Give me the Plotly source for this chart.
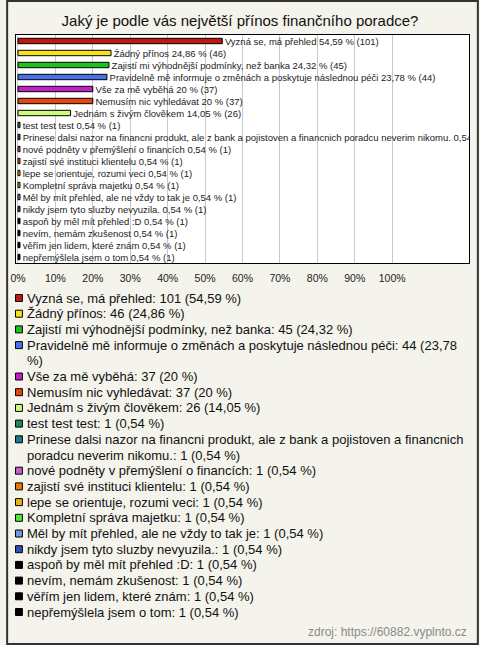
import plotly.graph_objects as go

# ---------------- data ----------------
categories = [
    "Vyzná se, má přehled",
    "Žádný přínos",
    "Zajistí mi výhodnější podmínky, než banka",
    "Pravidelně mě informuje o změnách a poskytuje následnou péči",
    "Vše za mě vyběhá",
    "Nemusím nic vyhledávat",
    "Jednám s živým člověkem",
    "test test test",
    "Prinese dalsi nazor na financni produkt, ale z bank a pojistoven a financnich poradcu neverim nikomu.",
    "nové podněty v přemýšlení o financích",
    "zajistí své instituci klientelu",
    "lepe se orientuje, rozumi veci",
    "Kompletní správa majetku",
    "Měl by mít přehled, ale ne vždy to tak je",
    "nikdy jsem tyto sluzby nevyuzila.",
    "aspoň by měl mít přehled :D",
    "nevím, nemám zkušenost",
    "věřím jen lidem, které znám",
    "nepřemýšlela jsem o tom",
]
counts = [101, 46, 45, 44, 37, 37, 26, 1, 1, 1, 1, 1, 1, 1, 1, 1, 1, 1, 1]
percents = [54.59, 24.86, 24.32, 23.78, 20, 20, 14.05,
            0.54, 0.54, 0.54, 0.54, 0.54, 0.54, 0.54, 0.54, 0.54, 0.54, 0.54, 0.54]
colors = [
    "#c0180c", "#f7e21a", "#1ec21e", "#4a72e8", "#c020c8", "#e8450c", "#cdfa7a",
    "#1a8c5c", "#1f7890", "#c060c8", "#e87810", "#e8b410", "#50e830", "#6c9ce0",
    "#2c54b8", "#000000", "#000000", "#000000", "#000000",
]
tick_values = [0, 10, 20, 30, 40, 50, 60, 70, 80, 90, 100]
tick_labels = ["0%", "10%", "20%", "30%", "40%", "50%", "60%", "70%", "80%", "90%", "100%"]
title_text = "Jaký je podle vás největší přínos finančního poradce?"
source_text = "zdroj: https://60882.vyplnto.cz"

# ---------------- helpers ----------------
FONT = "Liberation Sans, Arial, sans-serif"
W, H = 480, 645
L, R, T, B = 10, 10, 35, 382
PW, PH = W - L - R, H - T - B
X0_PX, SCALE = 12, 3.8           # pixel of 0 % and px per %
x_lo = -(X0_PX - L) / SCALE
x_hi = x_lo + PW / SCALE


def fmt_pct(v):
    if float(v).is_integer():
        return str(int(v))
    return ("%.2f" % v).replace(".", ",")


def px_x(x):
    return (x - L) / PW


def px_y(y):
    return (H - B - y) / PH


_w = {" ": 278, "a": 556, "b": 556, "c": 500, "d": 556, "e": 556, "f": 278, "g": 556,
      "h": 556, "i": 222, "j": 222, "k": 500, "l": 222, "m": 833, "n": 556, "o": 556,
      "p": 556, "q": 556, "r": 333, "s": 500, "t": 278, "u": 556, "v": 500, "w": 722,
      "x": 500, "y": 500, "z": 500, ",": 278, ".": 278, ":": 278, "(": 333, ")": 333,
      "%": 889, "/": 278, "?": 556, "-": 333}
_strip = str.maketrans("áéěíóúůýčďňřšťžÁÉĚÍÓÚŮÝČĎŇŘŠŤŽ", "aeeiouuycdnrstzAEEIOUUYCDNRSTZ")


def text_w(s, size):
    tot = 0
    for c in s.translate(_strip):
        if c in _w:
            tot += _w[c]
        elif c.isdigit():
            tot += 556
        elif c.isupper():
            tot += 667
        else:
            tot += 556
    return tot * size / 1000.0


def wrap(s, size, maxw):
    words = s.split(" ")
    lines, cur = [], ""
    for wd in words:
        cand = wd if not cur else cur + " " + wd
        if text_w(cand, size) <= maxw or not cur:
            cur = cand
        else:
            lines.append(cur)
            cur = wd
    lines.append(cur)
    return lines


# ---------------- figure ----------------
bar_texts = ["\u00a0" + f"{c} {fmt_pct(p)} % ({n})" for c, p, n in zip(categories, percents, counts)]

fig = go.Figure()
fig.add_trace(go.Bar(
    x=percents, y=categories, orientation="h",
    marker=dict(color=colors, line=dict(color="black", width=1)),
    width=0.45,
    text=bar_texts, textposition="outside", constraintext="none", cliponaxis=True,
    textfont=dict(family=FONT, size=9.5, color="#222222"),
    hoverinfo="skip", showlegend=False,
))

shapes = []
annotations = []

# legend (built from data)
LEG_FONT = 13
LINE = 15.7
line_idx = 0
for c, p, n, col in zip(categories, percents, counts, colors):
    label = f"{c}: {n} ({fmt_pct(p)} %)"
    lines = wrap(label, LEG_FONT, 448)
    yc = 298 + line_idx * LINE
    shapes.append(dict(type="rect", xref="paper", yref="paper",
                       x0=px_x(9.5), x1=px_x(16.5), y0=px_y(yc - 3.5), y1=px_y(yc + 3.5),
                       fillcolor=col, line=dict(color="black", width=1)))
    for k, ln in enumerate(lines):
        yk = 298 + (line_idx + k) * LINE
        annotations.append(dict(text=ln, xref="paper", yref="paper",
                                x=px_x(19), y=px_y(yk), xanchor="left", yanchor="middle",
                                showarrow=False,
                                font=dict(family=FONT, size=LEG_FONT, color="#111111")))
    line_idx += len(lines)

# source
annotations.append(dict(text=source_text, xref="paper", yref="paper",
                        x=px_x(470), y=px_y(632), xanchor="right", yanchor="middle",
                        showarrow=False, font=dict(family=FONT, size=12, color="#8a8a8a")))

# outer frame
shapes.append(dict(type="rect", xref="paper", yref="paper", layer="above",
                   x0=px_x(1), x1=px_x(479), y0=px_y(644), y1=px_y(1),
                   line=dict(color="#333333", width=2), fillcolor="rgba(0,0,0,0)"))

fig.update_layout(
    width=W, height=H,
    margin=dict(l=L, r=R, t=T, b=B, pad=0),
    paper_bgcolor="#f4f3ec", plot_bgcolor="#ffffff",
    title=dict(text=title_text, x=0.5, xanchor="center", y=1 - 21 / H, yanchor="middle",
               font=dict(family=FONT, size=15, color="#111111")),
    xaxis=dict(range=[x_lo, x_hi], tickvals=tick_values, ticktext=tick_labels,
               showgrid=True, gridcolor="#c8c8c8", gridwidth=1, zeroline=False,
               showline=True, linecolor="black", linewidth=1, mirror=True,
               ticks="", ticklabelstandoff=5,
               tickfont=dict(family=FONT, size=10.5, color="#222222"),
               fixedrange=True),
    yaxis=dict(type="category", autorange="reversed", showticklabels=False,
               showgrid=False, zeroline=False, showline=True, linecolor="black",
               linewidth=1, mirror=True, ticks="", fixedrange=True),
    shapes=shapes, annotations=annotations,
    bargap=0.55, showlegend=False,
)

fig.write_html("out.html", config={"displayModeBar": False, "staticPlot": True},
               post_script="document.body.style.margin='0';document.body.style.padding='0';"
                           "document.body.style.overflow='hidden';")
